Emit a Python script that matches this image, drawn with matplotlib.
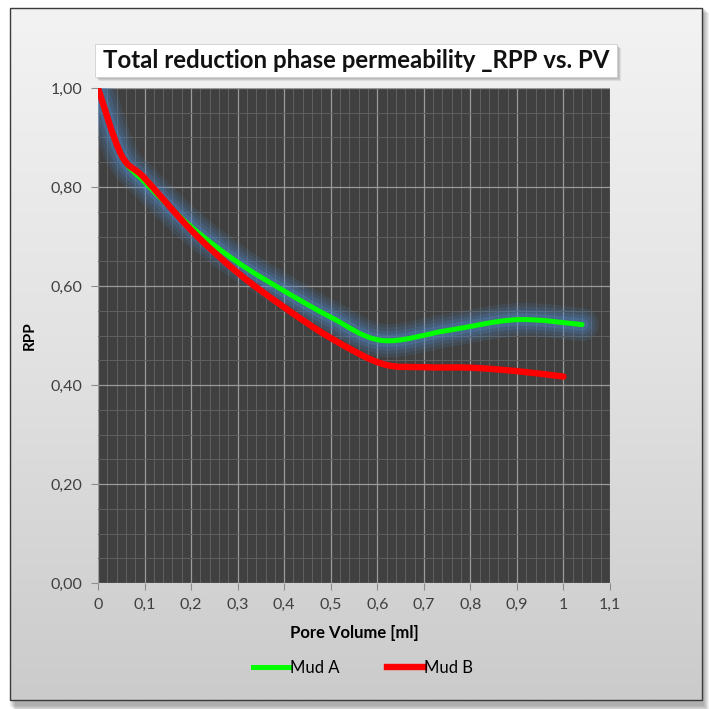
import numpy as np
import matplotlib
matplotlib.use("Agg")
import matplotlib.pyplot as plt
from matplotlib.colors import LinearSegmentedColormap
from matplotlib.path import Path
from matplotlib.patches import PathPatch, Rectangle
from matplotlib.lines import Line2D
from matplotlib.ticker import MultipleLocator, FuncFormatter

plt.rcParams['font.family'] = ['Lato', 'DejaVu Sans']

# Mud A / Mud B: RPP against injected pore volume
pv_a = [0.0, 0.05, 0.1, 0.2, 0.3, 0.4, 0.5, 0.61, 0.75, 0.9, 1.04]
rpp_a = [1.0, 0.865, 0.81, 0.72, 0.648, 0.59, 0.537, 0.49, 0.51, 0.532, 0.522]
pv_b = [0.0, 0.05, 0.1, 0.2, 0.3, 0.4, 0.5, 0.61, 0.7, 0.8, 0.9, 1.0]
rpp_b = [1.0, 0.865, 0.818, 0.713, 0.627, 0.557, 0.495, 0.443, 0.436, 0.435, 0.428, 0.417]


def smooth_path(x, y):
    """Bezier curve through the points, like Excel's smoothed line"""
    pts = np.column_stack([x, y]).astype(float)
    verts = [pts[0]]
    codes = [Path.MOVETO]
    n = len(pts)
    for i in range(n - 1):
        p0 = pts[i - 1] if i > 0 else pts[i]
        p1, p2 = pts[i], pts[i + 1]
        p3 = pts[i + 2] if i + 2 < n else pts[i + 1]
        verts += [p1 + (p2 - p0) / 6, p2 - (p3 - p1) / 6, p2]
        codes += [Path.CURVE4] * 3
    return Path(verts, codes)


fig = plt.figure(figsize=(7.09, 7.09), dpi=100)
fig.patch.set_facecolor('white')

# chart frame with gradient fill and shadow
bg = fig.add_axes([0, 0, 1, 1])
bg.set_xlim(0, 709)
bg.set_ylim(709, 0)
bg.axis('off')
for k in range(6):
    bg.add_patch(Rectangle((10 + k, 8 + k), 694, 698, facecolor='black',
                           alpha=0.06, edgecolor='none', zorder=1))
grad = np.linspace(0, 1, 256).reshape(-1, 1)
frame_cmap = LinearSegmentedColormap.from_list('frame', ['#f3f3f3', '#e2e2e2', '#cbcbcb'])
bg.imshow(grad, extent=(10, 702, 700, 8), cmap=frame_cmap, aspect='auto', zorder=2)
bg.add_patch(Rectangle((10, 8), 692, 692, facecolor='none', edgecolor='#3a3a3a',
                       lw=1.0, zorder=3))

# title box with drop shadow
for k in range(1, 5):
    bg.add_patch(Rectangle((95 + k, 44 + k), 522, 33, facecolor='black',
                           alpha=0.08, edgecolor='none', zorder=3))
bg.add_patch(Rectangle((95, 44), 522, 33, facecolor='white', edgecolor='#d0d0d0',
                       lw=0.6, zorder=4))
bg.text(356, 61, 'Total reduction phase permeability _RPP vs. PV', ha='center',
        va='center', fontsize=17.3, fontweight='bold', color='#111111', zorder=5)

ax = fig.add_axes([98 / 709, 1 - 583 / 709, 512 / 709, 495 / 709])
ax.set_facecolor('#404040')
ax.set_xlim(0, 1.1)
ax.set_ylim(0, 1.0)
ax.xaxis.set_major_locator(MultipleLocator(0.1))
ax.xaxis.set_minor_locator(MultipleLocator(0.02))
ax.yaxis.set_major_locator(MultipleLocator(0.2))
ax.yaxis.set_minor_locator(MultipleLocator(0.05))
ax.grid(which='major', color='#9a9a9a', lw=0.9)
ax.grid(which='minor', color='#606060', lw=0.7)
ax.set_axisbelow(True)
for s in ax.spines.values():
    s.set_visible(False)
ax.tick_params(which='minor', length=0)
ax.tick_params(which='major', length=5, color='#8c8c8c', labelsize=11.5,
               labelcolor='#404040', pad=6)
ax.xaxis.set_major_formatter(FuncFormatter(lambda v, p: f'{v:g}'.replace('.', ',')))
ax.yaxis.set_major_formatter(FuncFormatter(lambda v, p: f'{v:.2f}'.replace('.', ',')))

path_a = smooth_path(pv_a, rpp_a)
path_b = smooth_path(pv_b, rpp_b)

# blue glow under Mud A
for w, a in [(24, 0.13), (19, 0.16), (14, 0.2), (9, 0.3)]:
    ax.add_patch(PathPatch(path_a, fill=False, edgecolor='#4f86c6', lw=w, alpha=a,
                           capstyle='round', joinstyle='round', zorder=2))
ax.add_patch(PathPatch(path_a, fill=False, edgecolor='#00ff00', lw=3.6,
                       capstyle='round', joinstyle='round', zorder=3))
ax.add_patch(PathPatch(path_b, fill=False, edgecolor='#ff0000', lw=4.6,
                       capstyle='round', joinstyle='round', zorder=4))

ax.set_xlabel('Pore Volume [ml]', fontsize=12, fontweight='bold', labelpad=9)
ax.set_ylabel('RPP', fontsize=11, fontweight='bold', labelpad=10)

handles = [Line2D([], [], color='#00ff00', lw=3.6),
           Line2D([], [], color='#ff0000', lw=4.6)]
fig.legend(handles, ['Mud A', 'Mud B'], loc='center', bbox_to_anchor=(0.512, 1 - 668 / 709),
           ncol=2, frameon=False, fontsize=12, handlelength=2.2, handletextpad=0.0,
           columnspacing=2.9)

fig.savefig('out.png', dpi=100)
